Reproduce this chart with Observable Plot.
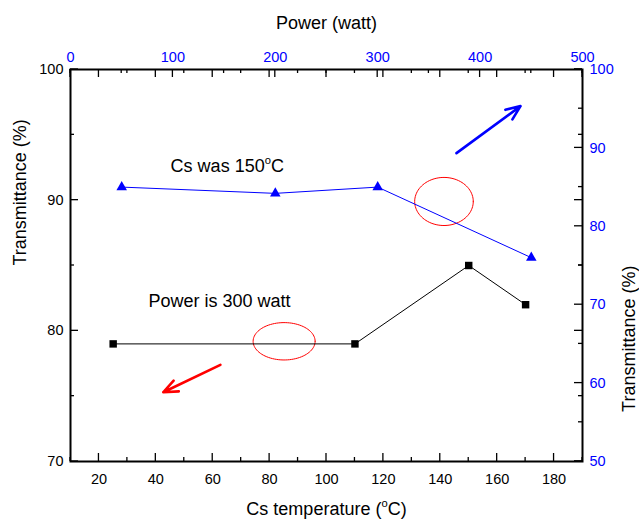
<!DOCTYPE html>
<html>
<head>
<meta charset="utf-8">
<script src="https://cdn.jsdelivr.net/npm/d3@7"></script>
<script src="https://cdn.jsdelivr.net/npm/@observablehq/plot@0.6"></script>
<style>
  html, body { margin: 0; padding: 0; background: #fff; }
  svg { display: block; }
</style>
</head>
<body>
<div id="chart"></div>
<script>
// ---- data ----
const tempC = [25, 110, 150, 170];            // Cs temperature (°C), bottom axis
const transAtPower300 = [79, 79, 85, 82];     // Transmittance (%), left axis
const powerW = [50, 200, 300, 450];           // Power (watt), top axis
const transAtCs150 = [85, 84.2, 85, 76];      // Transmittance (%), right axis

const bottomMajor = [20, 40, 60, 80, 100, 120, 140, 160, 180];
const bottomMinor = [10, 30, 50, 70, 90, 110, 130, 150, 170, 190];
const topMajor = [0, 100, 200, 300, 400, 500];
const topMinor = [50, 150, 250, 350, 450];
const leftMajor = [70, 80, 90, 100];
const leftMinor = [75, 85, 95];
const rightMajor = [50, 60, 70, 80, 90, 100];
const rightMinor = [55, 65, 75, 85, 95];

// annotations (in bottom/left data units)
const noteText = ["Cs was 150°C", "Power is 300 watt"];
const noteX = [45.2, 37.4];
const noteY = [92.6, 82.3];
const ellipseCx = [141.3, 85.1];
const ellipseCy = [89.9, 79.2];
const ellipseRx = [10.3, 10.9];
const ellipseRy = [1.84, 1.43];
const arrowX1 = [145.7, 62.7];
const arrowY1 = [93.6, 77.4];
const arrowX2 = [168.2, 42.6];
const arrowY2 = [97.2, 75.3];
const arrowColor = ["blue", "red"];

// ---- secondary-axis mappings ----
const xDomain = [10, 190], pDomain = [0, 500];
const yDomain = [70, 100], rDomain = [50, 100];
const p2x = p => xDomain[0] + (p - pDomain[0]) * (xDomain[1] - xDomain[0]) / (pDomain[1] - pDomain[0]);
const x2p = x => pDomain[0] + (x - xDomain[0]) * (pDomain[1] - pDomain[0]) / (xDomain[1] - xDomain[0]);
const r2y = r => yDomain[0] + (r - rDomain[0]) * (yDomain[1] - yDomain[0]) / (rDomain[1] - rDomain[0]);
const y2r = y => rDomain[0] + (y - yDomain[0]) * (rDomain[1] - rDomain[0]) / (yDomain[1] - yDomain[0]);

const black = tempC.map((t, i) => ({x: t, y: transAtPower300[i]}));
const bluePts = powerW.map((p, i) => ({x: p2x(p), y: r2y(transAtCs150[i])}));

const ellipsePts = [];
ellipseCx.forEach((cx, e) => {
  for (let k = 0; k <= 90; k++) {
    const a = 2 * Math.PI * k / 90;
    ellipsePts.push({id: e, x: cx + ellipseRx[e] * Math.cos(a), y: ellipseCy[e] + ellipseRy[e] * Math.sin(a)});
  }
});
const arrows = arrowX1.map((_, i) => ({x1: arrowX1[i], y1: arrowY1[i], x2: arrowX2[i], y2: arrowY2[i], c: arrowColor[i]}));
const notes = noteText.map((t, i) => ({t, x: noteX[i], y: noteY[i]}));

const blue = "#0000ff";

const chart = Plot.plot({
  width: 639,
  height: 519,
  marginLeft: 70,
  marginRight: 57,
  marginTop: 69,
  marginBottom: 58,
  x: {domain: xDomain},
  y: {domain: yDomain},
  style: {fontFamily: "'Liberation Sans', Arial, sans-serif", fontSize: "14.5px", background: "#fff", color: "#000"},
  marks: [
    Plot.frame({stroke: "#000", fill: "none", strokeWidth: 2}),
    // tick labels
    Plot.axisX(bottomMajor, {anchor: "bottom", tickSize: 0, tickPadding: 12, label: null}),
    Plot.axisX(topMajor.map(p2x), {anchor: "top", tickSize: 0, tickPadding: 8, fill: blue, tickFormat: d => String(Math.round(x2p(d))), label: null}),
    Plot.axisY(leftMajor, {anchor: "left", tickSize: 0, tickPadding: 7, label: null}),
    Plot.axisY(rightMajor.map(r2y), {anchor: "right", tickSize: 0, tickPadding: 7, fill: blue, tickFormat: d => String(Math.round(y2r(d))), label: null}),
    // axis titles
    Plot.text(["Power (watt)"], {text: d => d, frameAnchor: "top", dy: -53, fontSize: 18}),
    Plot.text(["Cs temperature (°C)"], {text: d => d, frameAnchor: "bottom", dy: 53, fontSize: 18}),
    Plot.text(["Transmittance (%)"], {text: d => d, frameAnchor: "left", dx: -50, rotate: -90, fontSize: 18}),
    Plot.text(["Transmittance (%)"], {text: d => d, frameAnchor: "right", dx: 47, rotate: -90, fontSize: 18}),
    // annotations
    Plot.line(ellipsePts, {x: "x", y: "y", z: "id", stroke: "red", strokeWidth: 1}),
    Plot.arrow(arrows, {x1: "x1", y1: "y1", x2: "x2", y2: "y2", stroke: "c", strokeWidth: 2.6, headLength: 9, headAngle: 45}),
    Plot.text(notes, {x: "x", y: "y", text: "t", textAnchor: "start", fontSize: 18}),
    // data series
    Plot.line(black, {x: "x", y: "y", stroke: "#000", strokeWidth: 1}),
    Plot.dot(black, {x: "x", y: "y", symbol: "square", r: 4.2, fill: "#000", stroke: "none"}),
    Plot.line(bluePts, {x: "x", y: "y", stroke: blue, strokeWidth: 1}),
    Plot.dot(bluePts, {x: "x", y: "y", symbol: "triangle", r: 3.9, fill: blue, stroke: "none"})
  ]
});

document.getElementById("chart").appendChild(chart);

// inward tick marks, positioned with the plot's own scales
const sx = v => chart.scale("x").apply(v);
const sy = v => chart.scale("y").apply(v);
const xL = sx(xDomain[0]), xR = sx(xDomain[1]), yB = sy(yDomain[0]), yT = sy(yDomain[1]);
const MAJ = 8, MIN = 4;
const tg = d3.select(chart).append("g").attr("aria-label", "ticks").attr("stroke", "#000").attr("stroke-width", 1.3);
const vt = (vals, y0, dir, L) => vals.forEach(v => tg.append("line").attr("x1", sx(v)).attr("x2", sx(v)).attr("y1", y0).attr("y2", y0 + dir * L));
const ht = (vals, x0, dir, L) => vals.forEach(v => tg.append("line").attr("y1", sy(v)).attr("y2", sy(v)).attr("x1", x0).attr("x2", x0 + dir * L));
vt(bottomMajor, yB, -1, MAJ); vt(bottomMinor, yB, -1, MIN);
vt(bottomMajor, yT, 1, MAJ); vt(bottomMinor, yT, 1, MIN);
vt(topMajor.map(p2x), yT, 1, MAJ); vt(topMinor.map(p2x), yT, 1, MIN);
ht(leftMajor, xL, 1, MAJ); ht(leftMinor, xL, 1, MIN);
ht(leftMajor, xR, -1, MAJ); ht(leftMinor, xR, -1, MIN);
ht(rightMajor.map(r2y), xR, -1, MAJ); ht(rightMinor.map(r2y), xR, -1, MIN);

// superscript "o" for the degree sign
const NS = "http://www.w3.org/2000/svg";
chart.querySelectorAll("text").forEach(el => {
  const s = el.textContent;
  const i = s.indexOf("°");
  if (i < 0 || el.querySelector("tspan")) return;
  const fs = parseFloat(getComputedStyle(el).fontSize) || 18;
  el.textContent = "";
  const a = document.createElementNS(NS, "tspan"); a.textContent = s.slice(0, i);
  const b = document.createElementNS(NS, "tspan"); b.textContent = "o";
  b.setAttribute("font-size", (fs * 0.62).toFixed(1)); b.setAttribute("dy", (-fs * 0.42).toFixed(1));
  const c = document.createElementNS(NS, "tspan"); c.textContent = s.slice(i + 1);
  c.setAttribute("dy", (fs * 0.42).toFixed(1));
  el.append(a, b, c);
});
</script>
</body>
</html>
